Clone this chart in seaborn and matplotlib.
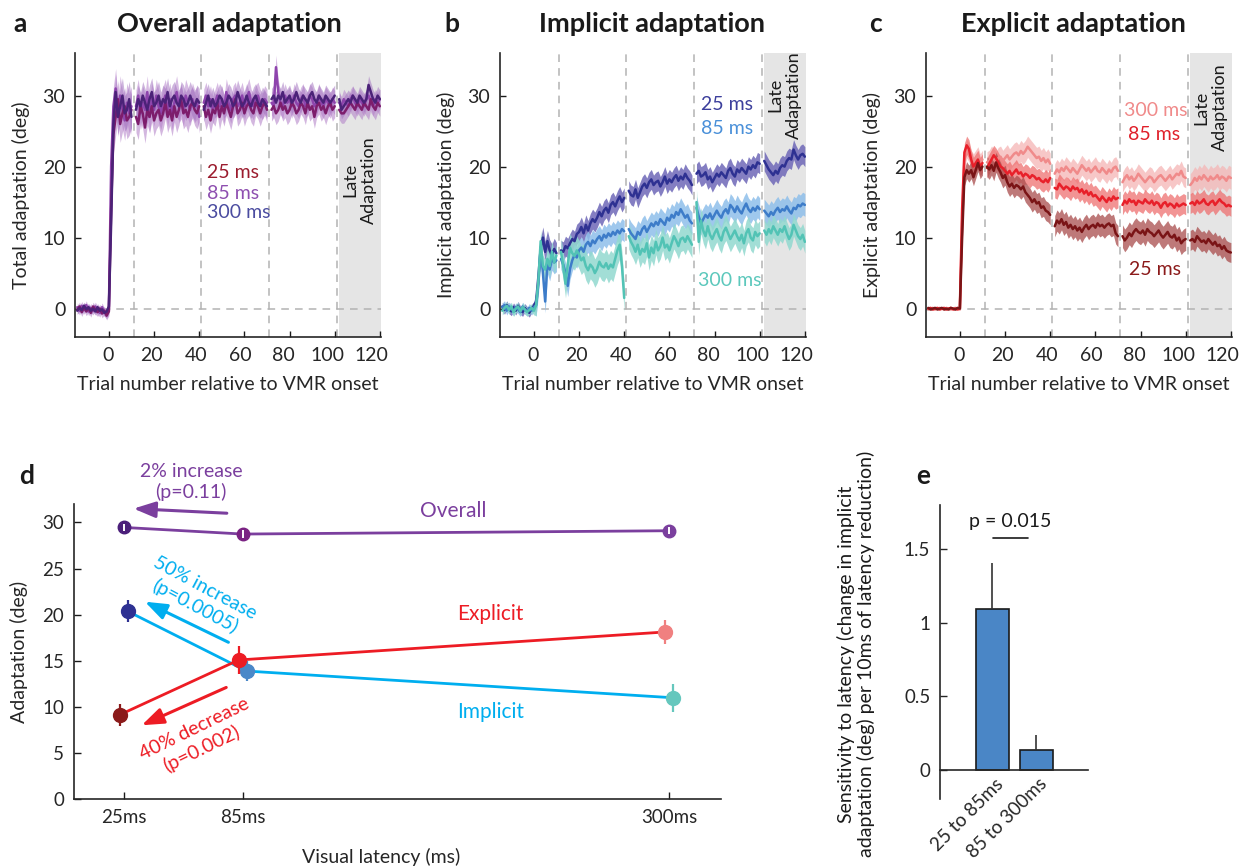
import numpy as np
import pandas as pd
import matplotlib
matplotlib.use("Agg")
import matplotlib.pyplot as plt
import seaborn as sns
from matplotlib.transforms import ScaledTranslation

sns.set_theme(style="ticks")
plt.rcParams["font.family"] = ["Lato", "DejaVu Sans"]
plt.rcParams["axes.linewidth"] = 1.2
plt.rcParams["text.color"] = "#1a1a1a"

# ---------------- data ----------------
SEG_START = [-14, 12, 42, 72, 102]          # first trial of each recorded block
BREAKS = [11, 41, 71, 101]                   # block boundaries (dashed lines)
LATE_START, LATE_END = 101.8, 121
LATENCY_LABELS = ["25 ms", "85 ms", "300 ms"]

# Panel a: total adaptation (deg), one list per block
overall_25 = [
    [-0.2, 0.3, -0.5, 0.2, -0.4, 0.1, -0.6, 0.3, -0.2, -0.5, 0.0, -0.7, -0.3, -1.0, -0.4,
     14.0, 24.5, 27.0, 29.5, 26.0, 27.5, 28.5, 26.5, 27.0, 28.0],
    [27.0, 26.0, 28.5, 27.5, 25.5, 28.0, 27.0, 28.5, 26.5, 27.5, 28.0, 26.5, 27.5, 29.0, 27.0,
     28.0, 26.5, 28.5, 27.0, 28.0, 29.5, 27.5, 28.0, 27.0, 28.5, 29.0, 28.0, 27.5, 28.5],
    [28.5, 27.0, 28.0, 26.5, 28.0, 27.5, 29.0, 27.0, 28.5, 27.5, 29.0, 28.0, 27.0, 28.5, 29.5,
     27.5, 28.0, 29.0, 27.5, 28.5, 29.0, 28.0, 27.5, 29.0, 28.5, 27.5, 28.5, 29.0, 28.0],
    [28.0, 28.5, 27.5, 28.0, 29.0, 28.0, 28.5, 27.5, 28.0, 29.0, 28.5, 27.5, 28.0, 29.0, 28.5,
     27.5, 29.0, 28.0, 28.5, 27.0, 28.5, 29.0, 28.0, 28.5, 27.5, 28.5, 29.0, 28.0, 28.5],
    [28.0, 27.5, 27.5, 28.0, 28.5, 29.0, 28.5, 28.0, 29.0, 28.5, 28.0, 29.0, 28.5, 28.0, 29.5,
     28.5, 28.0, 29.0, 28.5],
]
overall_85 = [
    [0.2, -0.3, 0.4, -0.2, 0.5, -0.4, 0.1, -0.3, 0.3, -0.2, -0.6, 0.2, -0.5, -0.8, -0.2,
     20.0, 28.5, 31.0, 27.0, 30.0, 28.0, 26.5, 29.0, 27.5, 28.5],
    [28.5, 30.0, 27.5, 29.0, 28.0, 30.5, 27.0, 29.5, 28.0, 30.0, 28.5, 27.5, 29.0, 30.0, 28.0,
     29.5, 27.5, 29.0, 30.5, 28.5, 29.0, 28.0, 30.0, 29.0, 28.0, 29.5, 28.5, 29.0, 27.0],
    [29.0, 30.0, 28.5, 29.5, 28.0, 29.0, 30.0, 28.5, 29.5, 28.0, 30.5, 29.0, 28.0, 29.5, 30.0,
     28.5, 29.0, 30.0, 28.5, 29.5, 30.5, 29.0, 28.5, 29.5, 30.0, 29.0, 28.5, 29.5, 29.0],
    [29.0, 28.5, 34.0, 30.5, 29.0, 28.5, 30.0, 29.0, 29.5, 28.5, 30.0, 29.0, 28.5, 29.5, 30.0,
     28.5, 29.0, 30.0, 29.5, 28.5, 29.0, 30.0, 29.0, 28.5, 29.5, 29.0, 28.5, 29.5, 29.0],
    [29.0, 28.5, 29.5, 29.0, 28.5, 29.5, 30.0, 29.0, 28.5, 29.5, 29.0, 28.5, 29.5, 30.0, 29.0,
     28.5, 29.5, 29.0, 29.5],
]
overall_300 = [
    [-0.3, 0.1, -0.2, 0.4, -0.1, 0.2, -0.3, 0.0, -0.4, 0.2, -0.3, -0.1, -0.6, -0.4, 0.3,
     12.0, 26.0, 30.5, 27.0, 28.5, 30.0, 27.5, 28.0, 29.5, 27.0],
    [28.0, 29.5, 28.5, 30.0, 29.0, 28.0, 29.5, 30.5, 28.5, 29.0, 30.0, 28.5, 29.5, 29.0, 30.5,
     28.5, 29.5, 30.0, 29.0, 28.5, 30.0, 29.5, 28.5, 29.0, 30.0, 29.0, 28.5, 29.5, 29.0],
    [28.0, 29.0, 30.0, 28.5, 29.5, 28.5, 29.0, 30.0, 29.5, 28.5, 29.0, 30.0, 29.5, 28.5, 29.0,
     30.5, 29.5, 28.5, 29.0, 30.0, 29.0, 28.5, 29.5, 30.0, 29.0, 28.5, 29.5, 29.0, 28.5],
    [29.5, 30.0, 29.0, 30.0, 29.5, 30.5, 29.0, 29.5, 30.0, 29.0, 29.5, 30.5, 29.5, 29.0, 30.0,
     29.5, 29.0, 30.0, 30.5, 29.5, 29.0, 30.0, 29.5, 29.0, 30.0, 29.5, 29.0, 29.5, 30.0],
    [29.5, 28.0, 28.5, 29.0, 29.5, 29.0, 30.0, 29.5, 29.0, 30.0, 29.5, 29.0, 29.5, 31.5, 30.5,
     29.5, 29.0, 30.0, 29.5],
]
# SEM: [baseline, early rise, block 2, block 3, block 4, block 5]
overall_25_sem = [0.6, 2.6, 2.2, 1.8, 1.6, 1.4]
overall_85_sem = [0.6, 2.8, 2.3, 1.9, 1.7, 1.4]
overall_300_sem = [0.5, 2.5, 2.0, 1.7, 1.5, 1.3]

# Panel b: implicit adaptation (deg)
implicit_25 = [
    [0.3, -0.2, 0.5, -0.1, -0.4, 0.2, -0.3, 0.4, -0.2, -0.5, 0.1, -0.3, -0.6, 0.0, 0.4,
     1.0, 4.5, 8.5, 10.0, 8.0, 9.5, 8.2, 7.6, 8.4, 7.8],
    [8.2, 8.0, 8.8, 8.5, 9.2, 9.8, 9.5, 10.5, 10.8, 11.5, 10.6, 11.8, 11.0, 12.0, 12.6,
     12.2, 12.8, 13.6, 13.0, 13.8, 14.2, 13.5, 14.6, 15.0, 14.4, 15.2, 15.8, 15.0, 15.6],
    [16.6, 16.0, 15.8, 16.8, 15.6, 16.4, 17.2, 17.6, 17.0, 17.8, 18.2, 17.4, 17.8, 18.0, 17.2,
     17.8, 18.6, 17.6, 18.2, 17.8, 18.4, 18.8, 18.0, 18.6, 18.2, 19.0, 18.4, 18.0, 17.4],
    [19.0, 19.4, 18.6, 18.8, 19.2, 18.2, 18.6, 17.8, 18.4, 19.0, 18.6, 19.2, 18.8, 18.4, 19.4,
     19.8, 19.0, 18.6, 19.6, 19.2, 19.8, 19.4, 19.0, 20.0, 19.6, 20.2, 19.8, 20.6, 20.4],
    [20.8, 20.2, 19.6, 19.2, 18.8, 19.4, 19.0, 19.8, 20.2, 20.0, 20.8, 21.2, 21.0, 22.4, 21.6,
     21.0, 21.6, 21.8, 21.4],
]
implicit_85 = [
    [0.2, 0.5, -0.3, 0.3, 0.0, -0.4, 0.2, -0.1, -0.5, 0.3, -0.2, -0.4, 0.1, -0.3, 0.2,
     0.5, 3.5, 8.5, 5.0, 1.0, 6.5, 5.5, 7.0, 6.5, 6.8],
    [7.0, 6.2, 5.0, 3.2, 5.6, 6.8, 7.6, 7.2, 8.2, 8.6, 8.0, 9.0, 9.4, 8.8, 9.6,
     9.2, 9.8, 10.2, 9.6, 10.4, 10.0, 10.6, 10.2, 10.8, 10.4, 11.0, 10.6, 11.2, 10.9],
    [11.2, 10.6, 10.2, 9.8, 10.8, 10.4, 11.2, 11.6, 10.8, 11.4, 12.0, 11.6, 12.2, 11.8, 12.6,
     12.2, 11.8, 12.8, 12.4, 13.2, 12.8, 13.6, 13.2, 14.0, 13.4, 12.8, 13.2, 12.4, 12.0],
    [14.2, 13.0, 12.0, 12.6, 13.2, 12.8, 13.4, 12.6, 13.2, 13.8, 13.2, 12.8, 13.6, 14.0, 13.4,
     14.6, 14.2, 13.6, 14.4, 13.8, 13.4, 14.2, 14.8, 14.0, 13.6, 14.2, 13.8, 14.4, 14.0],
    [13.8, 13.4, 13.0, 13.6, 13.2, 13.8, 14.2, 13.6, 14.0, 13.8, 14.4, 13.8, 13.4, 14.2, 14.0,
     14.6, 14.4, 14.8, 14.6],
]
implicit_300 = [
    [-0.3, 0.1, 0.4, -0.2, 0.3, -0.5, 0.0, 0.3, -0.4, 0.2, -0.1, -0.5, -0.2, 0.1, -0.3,
     0.5, 4.0, 9.5, 6.0, 5.5, 7.0, 6.0, 8.0, 6.5, 7.5],
    [8.0, 6.0, 3.5, 6.2, 8.6, 7.8, 7.4, 8.2, 7.6, 6.8, 7.2, 6.0, 5.4, 6.2, 5.8,
     5.0, 5.6, 6.6, 6.0, 5.8, 6.4, 5.6, 6.2, 5.8, 7.0, 8.2, 9.0, 6.0, 1.5],
    [10.2, 9.4, 8.8, 8.0, 9.0, 7.6, 8.4, 8.0, 9.2, 7.2, 8.6, 7.8, 9.4, 8.2, 8.8,
     10.0, 8.6, 9.0, 8.2, 9.2, 10.2, 9.6, 8.8, 9.8, 10.0, 9.4, 10.2, 9.6, 9.0],
    [15.0, 9.4, 12.4, 11.0, 10.2, 11.6, 10.4, 9.8, 10.6, 11.2, 10.2, 9.6, 10.8, 11.4, 10.6,
     9.8, 10.4, 11.0, 10.2, 9.6, 10.4, 9.2, 10.6, 11.2, 10.0, 9.6, 10.8, 10.2, 10.6],
    [11.0, 10.4, 11.2, 10.6, 11.6, 11.0, 10.4, 11.2, 10.8, 11.6, 10.6, 9.8, 10.4, 11.8, 11.0,
     10.2, 9.8, 10.4, 9.4],
]
implicit_25_sem = [0.6, 1.5, 1.4, 1.4, 1.4, 1.4]
implicit_85_sem = [0.6, 1.6, 1.5, 1.6, 1.6, 1.6]
implicit_300_sem = [0.6, 1.5, 2.0, 1.8, 1.8, 1.6]

# Panel c: explicit adaptation (deg)
explicit_25 = [
    [0.1, -0.1, 0.0, 0.1, -0.1, 0.0, 0.1, -0.1, 0.0, -0.1, 0.1, 0.0, -0.1, 0.1, 0.0,
     10.0, 18.5, 19.5, 19.0, 19.5, 18.5, 19.5, 20.5, 19.5, 20.0],
    [20.0, 19.6, 20.2, 19.4, 20.6, 19.8, 19.2, 18.4, 18.8, 17.8, 17.2, 17.6, 17.0, 17.4, 17.2,
     16.8, 17.2, 16.4, 16.0, 15.6, 15.0, 15.4, 14.8, 15.0, 14.2, 14.4, 13.8, 13.6, 13.2],
    [11.6, 12.4, 12.0, 12.6, 11.8, 12.2, 11.4, 11.8, 11.2, 11.6, 11.0, 11.4, 10.8, 11.4, 11.8,
     11.2, 11.6, 11.8, 11.4, 12.0, 11.6, 11.8, 11.4, 11.8, 12.0, 11.6, 11.8, 10.6, 10.2],
    [10.2, 9.6, 10.0, 10.6, 10.2, 10.8, 11.2, 10.8, 10.6, 11.0, 10.4, 11.2, 10.8, 10.6, 10.2,
     10.6, 11.0, 10.4, 10.0, 10.4, 10.8, 10.2, 10.0, 10.4, 9.6, 10.0, 9.2, 9.6, 9.8],
    [9.6, 9.8, 9.4, 10.2, 9.8, 9.4, 9.6, 9.2, 9.8, 9.4, 9.0, 9.4, 8.8, 9.0, 8.4,
     8.8, 8.2, 8.0, 7.9],
]
explicit_85 = [
    [0.0, 0.1, -0.1, 0.0, 0.1, -0.1, 0.0, 0.1, -0.1, 0.0, 0.1, -0.1, 0.0, -0.1, 0.1,
     14.0, 22.0, 23.0, 22.5, 21.0, 20.0, 20.5, 21.0, 20.0, 20.5],
    [19.8, 20.4, 21.0, 21.6, 21.2, 20.6, 20.0, 19.8, 19.4, 19.0, 19.4, 18.8, 19.2, 19.6, 19.0,
     19.2, 18.6, 19.0, 18.8, 18.4, 18.8, 18.6, 18.2, 18.4, 18.0, 17.8, 18.2, 17.8, 18.4],
    [17.0, 16.8, 17.6, 17.2, 16.8, 17.2, 17.0, 16.6, 17.2, 16.8, 17.0, 16.4, 16.8, 16.2, 16.6,
     16.0, 16.4, 15.8, 16.0, 15.6, 15.2, 15.8, 15.4, 15.0, 15.6, 15.2, 15.8, 15.4, 15.6],
    [14.6, 15.2, 14.8, 15.4, 15.0, 15.2, 14.6, 15.2, 15.0, 14.8, 15.4, 15.0, 14.8, 15.2, 14.6,
     15.0, 14.8, 14.2, 14.8, 15.0, 14.4, 14.8, 14.6, 14.2, 14.8, 14.4, 14.6, 14.8, 14.6],
    [14.8, 15.0, 14.6, 15.2, 14.8, 15.0, 15.4, 14.8, 14.6, 15.0, 15.2, 14.6, 15.0, 15.4, 15.0,
     14.8, 14.4, 14.6, 14.4],
]
explicit_300 = [
    [-0.1, 0.0, 0.1, -0.1, 0.0, 0.1, 0.0, -0.1, 0.1, 0.0, -0.1, 0.0, 0.1, 0.0, -0.1,
     12.0, 21.0, 22.5, 22.0, 21.0, 20.5, 21.0, 21.5, 20.5, 21.0],
    [20.6, 20.8, 21.4, 21.0, 20.6, 21.2, 21.4, 20.8, 21.2, 21.6, 21.0, 21.4, 21.8, 22.0, 21.6,
     22.2, 21.8, 22.2, 22.8, 22.4, 22.0, 21.6, 21.2, 21.4, 20.8, 21.2, 20.6, 21.0, 20.4],
    [19.0, 19.6, 19.2, 19.8, 19.4, 20.0, 19.6, 19.2, 19.8, 19.4, 19.0, 19.6, 20.2, 19.8, 19.4,
     19.8, 19.2, 19.6, 20.0, 19.4, 19.2, 19.8, 19.4, 19.0, 19.6, 19.2, 19.8, 20.0, 19.4],
    [17.8, 18.4, 18.8, 18.2, 18.6, 18.0, 18.4, 19.0, 18.6, 18.2, 17.8, 18.2, 18.6, 18.4, 17.8,
     18.2, 18.6, 18.8, 18.4, 18.0, 18.4, 18.8, 18.2, 18.6, 19.0, 18.8, 19.4, 18.6, 18.4],
    [17.4, 17.8, 18.4, 18.0, 18.6, 18.2, 18.8, 18.4, 18.0, 18.6, 18.2, 18.4, 18.8, 18.2, 18.6,
     18.4, 18.0, 18.6, 18.4],
]
explicit_25_sem = [0.15, 1.2, 1.4, 1.5, 1.6, 1.4]
explicit_85_sem = [0.15, 1.3, 1.4, 1.4, 1.4, 1.4]
explicit_300_sem = [0.15, 1.3, 1.5, 1.4, 1.4, 1.6]

# Panel d: late adaptation vs visual latency
latency_ms = [25, 85, 300]
latency_ticklabels = ["25ms", "85ms", "300ms"]
overall_late = [29.46, 28.74, 29.10]
overall_late_err = [0.4, 0.4, 0.4]
implicit_late = [20.37, 13.88, 10.98]
implicit_late_err = [1.2, 1.1, 1.5]
explicit_late = [9.13, 15.08, 18.12]
explicit_late_err = [1.2, 1.5, 1.3]

# Panel e: sensitivity of implicit adaptation to latency
sens_labels = ["25 to 85ms", "85 to 300ms"]
sens_values = [1.09, 0.133]
sens_err = [0.315, 0.10]

# ---------------- helpers ----------------
def series_frame(segs, sem, label):
    rows = []
    for k, (start, vals) in enumerate(zip(SEG_START, segs)):
        tr = start + np.arange(len(vals))
        if k == 0:
            s = np.where(tr <= 0, sem[0], sem[1])
        else:
            s = np.full(len(vals), sem[k + 1])
        rows.append(pd.DataFrame(dict(trial=tr, value=vals, err=s, seg=k, latency=label)))
    return pd.concat(rows, ignore_index=True)


GRID_GREY = "#b3b3b3"
DASH = (0, (5, 4))


def timecourse(ax, data, sems, line_cols, band_cols, band_alpha, band_order, lw=1.8):
    frames = {lab: series_frame(d, s, lab) for lab, d, s in zip(LATENCY_LABELS, data, sems)}
    ax.axvspan(LATE_START, LATE_END, color="#e5e5e5", lw=0, zorder=0)
    for b in BREAKS:
        ax.axvline(b, color=GRID_GREY, ls=DASH, lw=1.1, zorder=0.5)
    ax.axhline(0, color=GRID_GREY, ls=DASH, lw=1.1, zorder=0.5)
    for lab in band_order:
        f = frames[lab]
        for _, g in f.groupby("seg"):
            ax.fill_between(g["trial"], g["value"] - g["err"], g["value"] + g["err"],
                            color=band_cols[lab], alpha=band_alpha, lw=0, zorder=1)
    df = pd.concat([frames[l] for l in band_order], ignore_index=True)
    sns.lineplot(data=df, x="trial", y="value", hue="latency", units="seg",
                 estimator=None, palette=line_cols, hue_order=band_order,
                 ax=ax, legend=False, linewidth=lw, zorder=2)
    ax.set_xlim(-15, 120.5)
    ax.set_ylim(-4, 36)
    ticks = [0, 20, 40, 60, 80, 100, 120]
    ax.set_xticks(ticks)
    ax.set_yticks([0, 10, 20, 30])
    ax.tick_params(direction="in", length=4, width=1, labelsize=14, pad=7, color="#1a1a1a")
    # the reference's tick labels drift slightly left of their ticks
    for t, lbl in zip(ticks, ax.get_xticklabels()):
        dx = -(1 + 7 * t / 120) / 100
        lbl.set_transform(lbl.get_transform() + ScaledTranslation(dx, 0, fig.dpi_scale_trans))
    ax.set_xlabel("Trial number relative to VMR onset", fontsize=14, labelpad=9)
    sns.despine(ax=ax)


# ---------------- figure ----------------
W, H = 1245, 866
fig = plt.figure(figsize=(W / 100, H / 100), dpi=100)


def box(l, t, r, b):
    return [l / W, 1 - b / H, (r - l) / W, (b - t) / H]


axa = fig.add_axes(box(75, 53, 381, 337))
axb = fig.add_axes(box(500, 53, 806, 337))
axc = fig.add_axes(box(926, 53, 1232, 337))
axd = fig.add_axes(box(74, 504, 721, 799))
axe = fig.add_axes(box(940, 505, 1088, 799))

# panel a
timecourse(axa, [overall_25, overall_85, overall_300],
           [overall_25_sem, overall_85_sem, overall_300_sem],
           {"25 ms": "#7d1d6c", "85 ms": "#8e44ad", "300 ms": "#4b2278"},
           {"25 ms": "#b07cc6", "85 ms": "#b784cc", "300 ms": "#a679c2"}, 0.55,
           ["85 ms", "25 ms", "300 ms"])
axa.set_ylabel("Total adaptation (deg)", fontsize=14, labelpad=9)
for lab, y, c in zip(LATENCY_LABELS, [19.1, 16.2, 13.5], ["#9b1c2e", "#8e4fb0", "#4b4ca0"]):
    axa.text(43.5, y, lab, color=c, fontsize=14, ha="left", va="center")

# panel b
timecourse(axb, [implicit_25, implicit_85, implicit_300],
           [implicit_25_sem, implicit_85_sem, implicit_300_sem],
           {"25 ms": "#2e3192", "85 ms": "#3d7cc9", "300 ms": "#52c3b5"},
           {"25 ms": "#6e68b8", "85 ms": "#8ebfea", "300 ms": "#92d9cf"}, 0.85,
           ["25 ms", "85 ms", "300 ms"])
axb.set_ylabel("Implicit adaptation (deg)", fontsize=14, labelpad=9)
axb.text(85.7, 28.7, "25 ms", color="#3c3f9c", fontsize=14, ha="center", va="center")
axb.text(85.7, 25.4, "85 ms", color="#4a90d9", fontsize=14, ha="center", va="center")
axb.text(86.9, 3.9, "300 ms", color="#5cc8bc", fontsize=14, ha="center", va="center")

# panel c
timecourse(axc, [explicit_25, explicit_85, explicit_300],
           [explicit_25_sem, explicit_85_sem, explicit_300_sem],
           {"25 ms": "#7a1416", "85 ms": "#e8202a", "300 ms": "#f08a8a"},
           {"25 ms": "#a94c4c", "85 ms": "#ee7070", "300 ms": "#f5b5b5"}, 0.75,
           ["300 ms", "85 ms", "25 ms"])
axc.set_ylabel("Explicit adaptation (deg)", fontsize=14, labelpad=9)
axc.text(86.9, 27.9, "300 ms", color="#f08a8a", fontsize=14, ha="center", va="center")
axc.text(86.1, 24.5, "85 ms", color="#e0202a", fontsize=14, ha="center", va="center")
axc.text(86.5, 5.5, "25 ms", color="#8b1a1a", fontsize=14, ha="center", va="center")

for ax, y in zip([axa, axb, axc], [18.1, 30.1, 28.3]):
    ax.text(111, y, "Late\nAdaptation", rotation=90, ha="center", va="center",
            fontsize=13, multialignment="center", color="#1a1a1a")

for x, letter in [(20, "a"), (452, "b"), (875, "c")]:
    fig.text(x / W, 1 - 24 / H, letter, fontsize=19, fontweight="bold", ha="center", va="center")
for x, title in [(229, "Overall adaptation"), (652, "Implicit adaptation"), (1073, "Explicit adaptation")]:
    fig.text(x / W, 1 - 24 / H, title, fontsize=19.5, fontweight="bold", ha="center", va="center")

# panel d
PURPLE, CYAN, RED = "#7b3f9e", "#00aeef", "#ed1c24"
off = {"overall": 0, "implicit": 2, "explicit": -2}
lx = np.array(latency_ms, dtype=float)
sns.lineplot(x=lx + off["overall"], y=overall_late, ax=axd, color=PURPLE, lw=2, zorder=2)
sns.lineplot(x=lx + off["implicit"], y=implicit_late, ax=axd, color=CYAN, lw=2, zorder=2)
sns.lineplot(x=lx + off["explicit"], y=explicit_late, ax=axd, color=RED, lw=2, zorder=2.1)
for xi, yi, ei, c in zip(lx + off["implicit"], implicit_late, implicit_late_err,
                         ["#2e3192", "#4a88c8", "#65c7bd"]):
    axd.errorbar(xi, yi, yerr=ei, fmt="o", ms=10, color=c, mec=c, elinewidth=1.6, capsize=0, zorder=3)
for xi, yi, ei, c in zip(lx + off["explicit"], explicit_late, explicit_late_err,
                         ["#8b1a1a", "#ed1c24", "#f08080"]):
    axd.errorbar(xi, yi, yerr=ei, fmt="o", ms=10, color=c, mec=c, elinewidth=1.6, capsize=0, zorder=4)
for xi, yi, ei, c in zip(lx + off["overall"], overall_late, overall_late_err,
                         ["#4b1f7a", "#7a2283", "#7b3f9e"]):
    axd.plot(xi, yi, "o", ms=9, color=c, zorder=3)
    axd.errorbar(xi, yi, yerr=ei, fmt="none", ecolor="white", elinewidth=1.4, capsize=0, zorder=3.5)

axd.set_xlim(0, 326)
axd.set_ylim(0, 32)
axd.set_xticks(latency_ms)
axd.set_xticklabels(latency_ticklabels)
axd.set_yticks([0, 5, 10, 15, 20, 25, 30])
axd.tick_params(direction="in", length=5, width=1, labelsize=13.5, pad=7, color="#1a1a1a")
axd.set_xlabel("Visual latency (ms)", fontsize=14)
axd.xaxis.set_label_coords(0.474, -0.165)
axd.set_ylabel("Adaptation (deg)", fontsize=14, labelpad=10)
sns.despine(ax=axd)

arrow_kw = dict(arrowstyle="-|>,head_length=0.6,head_width=0.22", lw=2.2, mutation_scale=22,
                shrinkA=0, shrinkB=0)
axd.annotate("", xy=(30, 31.5), xytext=(77, 31.0), arrowprops=dict(color=PURPLE, **arrow_kw),
             annotation_clip=False)
axd.annotate("", xy=(35.7, 21.4), xytext=(77.8, 17.0), arrowprops=dict(color=CYAN, **arrow_kw))
axd.annotate("", xy=(34.1, 8.0), xytext=(76.7, 12.1), arrowprops=dict(color=RED, **arrow_kw))
axd.text(59, 35.5, "2% increase", color=PURPLE, fontsize=14, ha="center", va="center", clip_on=False)
axd.text(59, 33.3, "(p=0.11)", color=PURPLE, fontsize=14, ha="center", va="center", clip_on=False)
axd.text(66, 22.9, "50% increase", color=CYAN, fontsize=14, ha="center", va="center",
         rotation=-28, rotation_mode="anchor")
axd.text(61, 20.9, "(p=0.0005)", color=CYAN, fontsize=14, ha="center", va="center",
         rotation=-28, rotation_mode="anchor")
axd.text(60.5, 7.65, "40% decrease", color=RED, fontsize=14, ha="center", va="center",
         rotation=26, rotation_mode="anchor")
axd.text(64.4, 5.5, "(p=0.002)", color=RED, fontsize=14, ha="center", va="center",
         rotation=26, rotation_mode="anchor")
axd.text(191, 31.2, "Overall", color=PURPLE, fontsize=15, ha="center", va="center")
axd.text(210, 20.1, "Explicit", color=RED, fontsize=15, ha="center", va="center")
axd.text(210, 9.4, "Implicit", color=CYAN, fontsize=15, ha="center", va="center")
fig.text(27 / W, 1 - 476 / H, "d", fontsize=19, fontweight="bold", ha="center", va="center")

# panel e
sns.barplot(x=sens_labels, y=sens_values, ax=axe, color="#4a86c6", width=0.75,
            edgecolor="#1a1a1a", linewidth=1.2, saturation=1, errorbar=None)
axe.errorbar([0, 1], sens_values, yerr=[[0, 0], sens_err], fmt="none", ecolor="#333333",
             elinewidth=1.2, capsize=0, zorder=3)
axe.set_xlim(-1.19, 2.18)
axe.set_ylim(-0.2, 1.8)
axe.set_yticks([0, 0.5, 1, 1.5])
axe.set_yticklabels(["0", "0.5", "1", "1.5"])
axe.spines["bottom"].set_position(("data", 0))
sns.despine(ax=axe)
axe.tick_params(axis="y", direction="in", length=5, width=1, labelsize=13.5, pad=7)
axe.tick_params(axis="x", length=0, labelsize=13.5, pad=4)
for lbl in axe.get_xticklabels():
    lbl.set_rotation(45)
    lbl.set_ha("right")
    lbl.set_va("top")
    lbl.set_transform(lbl.get_transform() + ScaledTranslation(14 / 100, 0, fig.dpi_scale_trans))
axe.set_xlabel("")
axe.plot([0.02, 0.81], [1.577, 1.577], color="#1a1a1a", lw=1.2)
axe.text(0.41, 1.686, "p = 0.015", fontsize=14, ha="center", va="center")
fig.text(856 / W, 1 - 654 / H,
         "Sensitivity to latency (change in implicit\nadaptation (deg) per 10ms of latency reduction)",
         rotation=90, ha="center", va="center", fontsize=14, multialignment="center",
         linespacing=1.15)
fig.text(923 / W, 1 - 476 / H, "e", fontsize=19, fontweight="bold", ha="center", va="center")

fig.savefig("out.png", dpi=100)
